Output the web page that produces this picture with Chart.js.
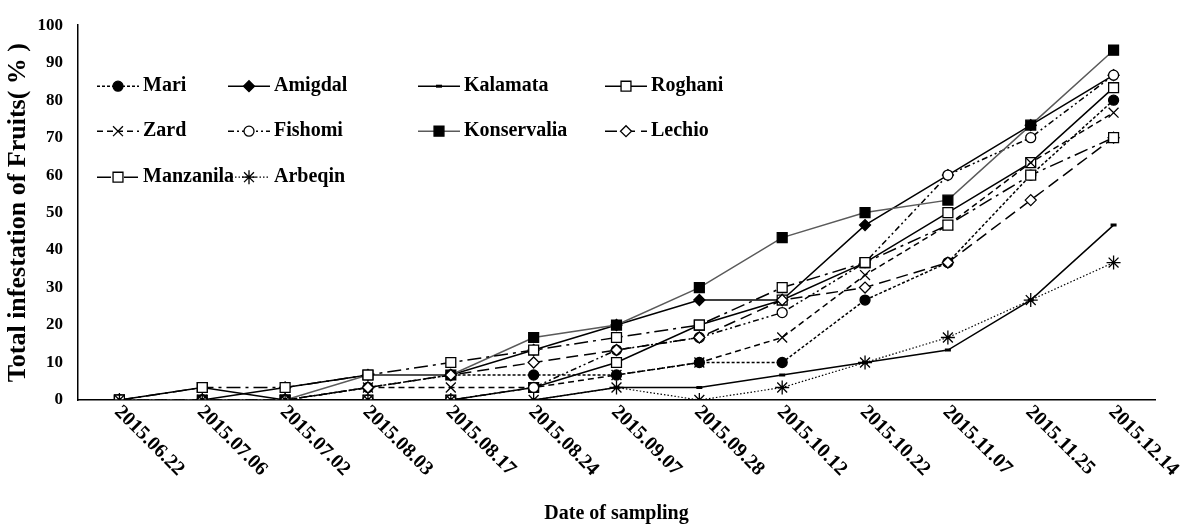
<!DOCTYPE html>
<html>
<head>
<meta charset="utf-8">
<script src="https://cdn.jsdelivr.net/npm/chart.js@4.4.0/dist/chart.umd.min.js"></script>
<style>
html, body { margin: 0; padding: 0; background: #fff; }
#wrap { width: 1180px; height: 529px; position: relative; }
</style>
</head>
<body>
<div id="wrap"><canvas id="myChart"></canvas></div>
<script>
// dates of sampling (x axis)
const dates = ['2015.06.22', '2015.07.06', '2015.07.02', '2015.08.03', '2015.08.17', '2015.08.24',
    '2015.09.07', '2015.09.28', '2015.10.12', '2015.10.22', '2015.11.07', '2015.11.25', '2015.12.14'];

// total infestation (%) per cultivar
const mari        = [0, 0, 0, 3.33, 6.67, 6.67, 6.67, 10, 10, 26.67, 36.67, 60, 80];
const amigdal     = [0, 0, 3.33, 6.67, 6.67, 13.33, 20, 26.67, 26.67, 46.67, 60, 73.33, 86.67];
const kalamata    = [0, 0, 0, 0, 0, 0, 3.33, 3.33, 6.67, 10, 13.33, 26.67, 46.67];
const roghani     = [0, 3.33, 0, 0, 0, 3.33, 10, 20, 26.67, 36.67, 50, 63.33, 83.33];
const zard        = [0, 0, 0, 3.33, 3.33, 3.33, 6.67, 10, 16.67, 33.33, 46.67, 63.33, 76.67];
const fishomi     = [0, 0, 0, 0, 0, 3.33, 13.33, 16.67, 23.33, 36.67, 60, 70, 86.67];
const konservalia = [0, 0, 0, 6.67, 6.67, 16.67, 20, 30, 43.33, 50, 53.33, 73.33, 93.33];
const lechio      = [0, 0, 0, 3.33, 6.67, 10, 13.33, 16.67, 26.67, 30, 36.67, 53.33, 70];
const manzanila   = [0, 3.33, 3.33, 6.67, 10, 13.33, 16.67, 20, 30, 36.67, 46.67, 60, 70];
const arbeqin     = [0, 0, 0, 0, 0, 0, 3.33, 0, 3.33, 10, 16.67, 26.67, 36.67];

const yTicks = [0, 10, 20, 30, 40, 50, 60, 70, 80, 90, 100];

const serif = '"Liberation Serif", "Times New Roman", serif';

function serie(label, values, dash, style, radius, fillColor, extra) {
    return Object.assign({
        label: label,
        data: values,
        borderColor: '#000',
        borderWidth: 1.5,
        borderDash: dash,
        pointStyle: style,
        pointRadius: radius,
        pointBackgroundColor: fillColor,
        pointBorderColor: '#000',
        pointBorderWidth: 1.3,
        tension: 0,
        fill: false,
    }, extra || {});
}

const data = {
    labels: dates,
    datasets: [
        serie('Mari', mari, [3, 2], 'circle', 5, '#000'),
        serie('Amigdal', amigdal, [], 'rectRot', 5.5, '#000'),
        serie('Kalamata', kalamata, [], 'line', 3, '#000', { pointBorderWidth: 3 }),
        serie('Roghani', roghani, [], 'rect', 7, '#fff'),
        serie('Zard', zard, [6, 4], 'crossRot', 7, '#fff'),
        serie('Fishomi', fishomi, [6, 3, 2, 3, 2, 3], 'circle', 5, '#fff'),
        serie('Konservalia', konservalia, [], 'rect', 7, '#000', { borderColor: '#5a5a5a' }),
        serie('Lechio', lechio, [12, 6], 'rectRot', 5.5, '#fff'),
        serie('Manzanila', manzanila, [14, 5, 3, 5], 'rect', 7, '#fff'),
        serie('Arbeqin', arbeqin, [1.5, 2], 'star', 7, '#fff', { borderWidth: 1.2 }),
    ],
};
// later series on top, like the original
data.datasets.forEach((ds, i) => { ds.order = 20 - i; });

// legend inside the plot + rotated date labels
const legendCols = [19, 150, 340, 527];
const legendRows = [61, 106, 152];

const dessin = {
    id: 'dessin',
    afterDraw(chart) {
        const ctx = chart.ctx;
        const xs = chart.scales.x;
        const area = chart.chartArea;
        ctx.save();
        ctx.fillStyle = '#000';
        ctx.font = 'bold 20px ' + serif;
        ctx.textAlign = 'left';
        ctx.textBaseline = 'middle';
        dates.forEach((d, i) => {
            ctx.save();
            ctx.translate(xs.getPixelForTick(i) - 2, xs.top + 9);
            ctx.rotate(Math.PI / 4);
            ctx.fillText(d, 0, 0);
            ctx.restore();
        });

        ctx.font = 'bold 20px ' + serif;
        chart.data.datasets.forEach((ds, i) => {
            const x0 = area.left + legendCols[i % 4];
            const y0 = area.top + legendRows[Math.floor(i / 4)];
            ctx.strokeStyle = ds.borderColor;
            ctx.lineWidth = ds.borderWidth;
            ctx.setLineDash(ds.borderDash);
            ctx.beginPath();
            ctx.moveTo(x0, y0);
            ctx.lineTo(x0 + 42, y0);
            ctx.stroke();
            ctx.setLineDash([]);
            ctx.strokeStyle = ds.pointBorderColor;
            ctx.fillStyle = ds.pointBackgroundColor;
            ctx.lineWidth = ds.pointBorderWidth;
            Chart.helpers.drawPoint(ctx, {
                pointStyle: ds.pointStyle, radius: ds.pointRadius, rotation: 0, borderWidth: ds.pointBorderWidth
            }, x0 + 21, y0);
            ctx.fillStyle = '#000';
            ctx.fillText(ds.label, x0 + 46, y0);
        });
        ctx.restore();
    }
};

const config = {
    type: 'line',
    data: data,
    options: {
        responsive: true,
        maintainAspectRatio: false,
        animation: false,
        layout: { padding: { top: 22, right: 25, left: 0, bottom: 0 } },
        plugins: {
            legend: { display: false },
            tooltip: { enabled: false },
        },
        scales: {
            x: {
                offset: true,
                grid: { display: false, drawTicks: false },
                border: { display: true, color: '#000', width: 1.5 },
                ticks: { display: false },
                title: {
                    display: true, text: 'Date of sampling', color: '#000',
                    font: { family: serif, size: 20, weight: 'bold' },
                    padding: { top: 0, bottom: 3 },
                },
                afterFit: s => { s.height = 129; },
            },
            y: {
                min: 0,
                max: 100,
                afterBuildTicks: s => { s.ticks = yTicks.map(v => ({ value: v })); },
                grid: { display: false, drawTicks: false },
                border: { display: true, color: '#000', width: 1.5 },
                ticks: { color: '#000', padding: 15, font: { family: serif, size: 17, weight: 'bold' } },
                title: {
                    display: true, text: 'Total infestation of Fruits( % )', color: '#000',
                    font: { family: serif, size: 26, weight: 'bold' },
                    padding: { top: 3, bottom: 0 },
                },
                afterFit: s => { s.width = 78; },
            },
        },
    },
    plugins: [dessin],
};

const myChart = new Chart(document.getElementById('myChart'), config);
</script>
</body>
</html>
